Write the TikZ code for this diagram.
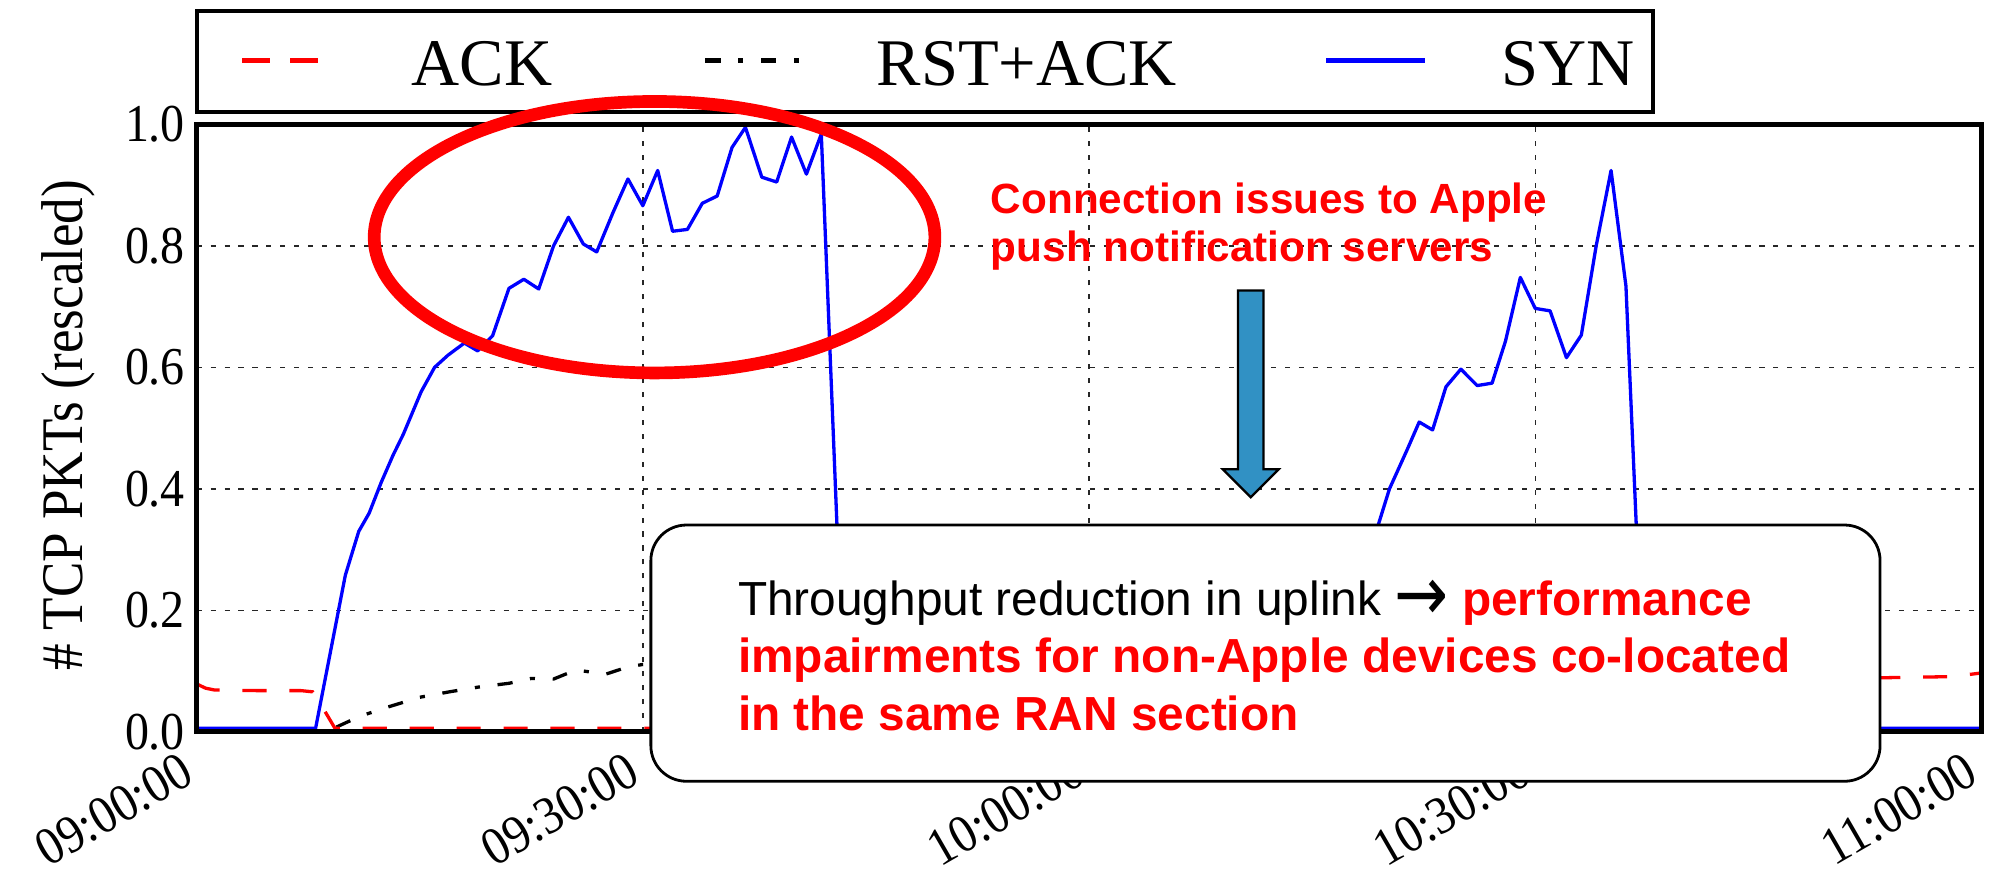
\documentclass[tikz,border=0pt]{standalone}
\usepackage{graphicx}
\usepackage{fontspec}
\setmainfont{Liberation Serif}
\newfontfamily\tickfont[FakeStretch=0.9]{Liberation Serif}
\newfontfamily\annotfont{Liberation Sans}
\newfontfamily\symbfont{DejaVu Sans}
\definecolor{arrowblue}{RGB}{49,145,196}
\begin{document}
\begin{tikzpicture}[x=1pt,y=1pt,
  gridline/.style={black!85, line width=1.1pt, dash pattern=on 4pt off 7pt},
  frameline/.style={line width=4pt},
  synline/.style={blue, line width=2.6pt, line join=round},
  ackline/.style={red, line width=2.6pt, dash pattern=on 19pt off 18pt},
  rstline/.style={black, line width=2.6pt, dash pattern=on 12pt off 14pt on 4pt off 14pt},
  ticklab/.style={font=\tickfont\fontsize{42}{42}\selectfont, inner sep=0pt},
  ylab/.style={ticklab, anchor=east},
  xlab/.style={ticklab, rotate=30, anchor=south east},
  legtext/.style={font=\fontsize{52.5}{52.5}\selectfont, inner sep=0pt, anchor=base west},
  annottext/.style={font=\annotfont\bfseries\fontsize{33.3}{38.5}\selectfont, text=red, inner sep=0pt, anchor=base west},
  boxtext/.style={font=\annotfont\fontsize{37.7}{45}\selectfont, inner sep=0pt, anchor=base west},
  boxbold/.style={boxtext, font=\annotfont\bfseries\fontsize{37.7}{45}\selectfont, text=red}
]
\useasboundingbox (0,0) rectangle (1568,693);

% data area
\begin{scope}[shift={(155pt,116pt)}, x=11.725pt, y=479pt]
  \foreach \t in {30,60,90} \draw[gridline] (\t,0) -- (\t,1);
  \foreach \v in {0.2,0.4,0.6,0.8} \draw[gridline] (0,\v) -- (120,\v);
  % RST+ACK
  \draw[rstline] (9.4,0.008) -- (11,0.026) -- (13,0.042) -- (15,0.057) -- (17,0.066) -- (19,0.074) -- (21,0.08) -- (22.5,0.088) -- (24,0.087) -- (25.5,0.102) -- (27.5,0.095) -- (29,0.107) -- (30,0.111) -- (35,0.12) -- (42,0.125) -- (43.6,0.005) -- (60,0.005);
  % ACK
  \draw[ackline] (0,0.079) -- (0.6,0.072) -- (1.2,0.069) -- (4,0.068) -- (7,0.068) -- (7.8,0.066) -- (8.6,0.035) -- (9.3,0.006) -- (97.5,0.006) -- (98.5,0.085) -- (113,0.089) -- (118,0.091) -- (120,0.097);
  % SYN
  \draw[synline] (0,0.006) -- (8.0,0.006) -- (10.0,0.258) -- (10.9,0.33) -- (11.6,0.36) -- (12.4,0.41) -- (13.2,0.455) -- (13.9,0.49) -- (15.1,0.56) -- (16.0,0.60) -- (16.9,0.62) -- (18.0,0.64) -- (18.9,0.627) -- (19.9,0.652) -- (21.0,0.73) -- (22.0,0.745) -- (23.0,0.729) -- (24.0,0.80) -- (25.0,0.847) -- (26.0,0.803) -- (26.9,0.79) -- (28.0,0.855) -- (29.0,0.91) -- (30.0,0.866) -- (31.0,0.924) -- (32.0,0.824) -- (33.0,0.827) -- (34.0,0.87) -- (35.0,0.882) -- (36.0,0.962) -- (36.9,0.995) -- (38.0,0.913) -- (39.0,0.905) -- (40.0,0.979) -- (41.0,0.918) -- (42.0,0.984) -- (43.6,0.006) -- (76.8,0.006) -- (79.4,0.337) -- (80.2,0.40) -- (81.4,0.465) -- (82.2,0.51) -- (83.1,0.497) -- (84.0,0.568) -- (85.0,0.597) -- (86.1,0.57) -- (87.1,0.574) -- (88.0,0.643) -- (89.0,0.748) -- (90.0,0.697) -- (91.0,0.693) -- (92.1,0.616) -- (93.1,0.653) -- (94.1,0.80) -- (95.1,0.924) -- (96.1,0.734) -- (96.8,0.337) -- (97.4,0.006) -- (120,0.006);
\end{scope}

% frame and legend
\draw[frameline] (155,116) rectangle (1562,595);
\draw[line width=3.2pt] (155,605) rectangle (1303,684);
\draw[red, line width=4pt] (191,645) -- (213,645);
\draw[red, line width=4pt] (229,645) -- (251,645);
\draw[black, line width=4pt, dash pattern=on 12pt off 14pt on 4pt off 14pt] (556,645) -- (630,645);
\draw[blue, line width=4pt] (1045.6,645) -- (1123.6,645);
\node[legtext] (lack) at (324.5,625.5) {ACK};
\node[legtext] (lrst) at (691,625.5) {RST+ACK};
\node[legtext] (lsyn) at (1183.5,625.5) {SYN};

% y ticks
\node[ylab] (y0) at (146,116) {0.0};
\node[ylab] (y2) at (146,211.8) {0.2};
\node[ylab] (y4) at (146,307.6) {0.4};
\node[ylab] (y6) at (146,403.4) {0.6};
\node[ylab] (y8) at (146,499.2) {0.8};
\node[ylab] (y10) at (146,595) {1.0};
\node[font=\tickfont\fontsize{46.5}{46.5}\selectfont, inner sep=0pt, rotate=90] (ylabel) at (53.6,358) {\# TCP PKTs (rescaled)};

% x ticks
\node[xlab] (x0) at (155,76) {09:00:00};
\node[xlab] (x1) at (506.75,76) {09:30:00};
\node[xlab] (x2) at (858.5,76) {10:00:00};
\node[xlab] (x3) at (1210.25,76) {10:30:00};
\node[xlab] (x4) at (1562,76) {11:00:00};

% highlight ellipse
\draw[red, line width=10pt] (516,506) ellipse [x radius=221pt, y radius=107pt];

% annotation
\node[annottext] (c1) at (781,525) {Connection issues to Apple};
\node[annottext] (c2) at (781,486.6) {push notification servers};

% block arrow
\draw[fill=arrowblue, line width=1.8pt, line join=miter] (976,464) -- (996,464) -- (996,323) -- (1008,323) -- (986,301) -- (964,323) -- (976,323) -- cycle;

% box
\node[draw, fill=white, rounded corners=28pt, line width=2.2pt, minimum width=969pt, minimum height=202pt, inner sep=0pt, anchor=south west] (box) at (512,76) {};
\node[boxtext] (b1) at (581.6,208) {Throughput reduction in uplink {\symbfont\raisebox{-0.12em}{\scalebox{1.35}[1.6]{→}}} {\bfseries\color{red}performance}};
\node[boxbold] (b2) at (581.6,163) {impairments for non-Apple devices co-located};
\node[boxbold] (b3) at (581.6,117) {in the same RAN section};
\end{tikzpicture}
\end{document}
